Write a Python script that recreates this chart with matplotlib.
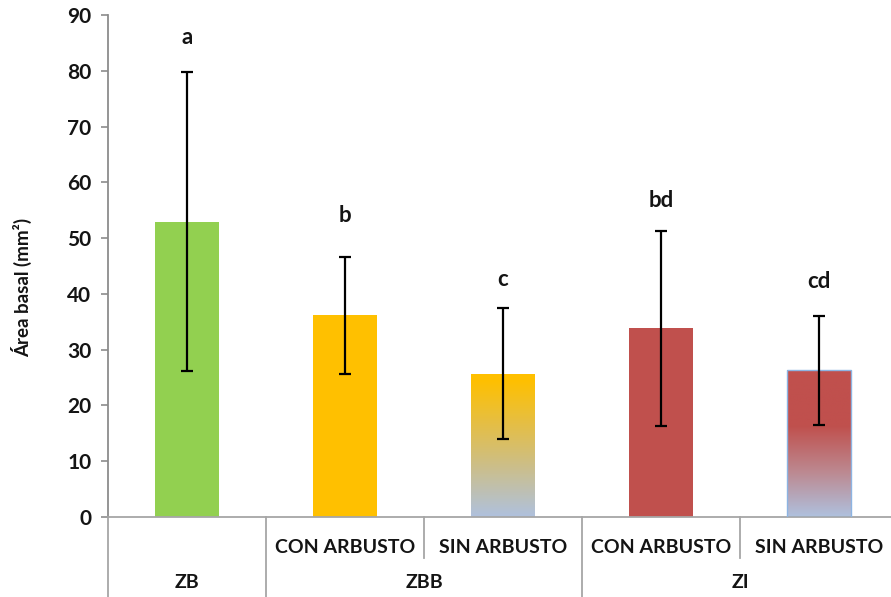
import numpy as np
import matplotlib
matplotlib.use('Agg')
import matplotlib.pyplot as plt
from matplotlib.colors import LinearSegmentedColormap

plt.rcParams['font.family'] = ['Lato', 'DejaVu Sans']

# Datos: área basal media y desviación por zona / condición
grupos = ['ZB', 'ZBB', 'ZBB', 'ZI', 'ZI']
condiciones = ['', 'CON ARBUSTO', 'SIN ARBUSTO', 'CON ARBUSTO', 'SIN ARBUSTO']
medias = [52.9, 36.2, 25.7, 33.8, 26.3]
desvios = [26.8, 10.5, 11.8, 17.4, 9.8]
letras = ['a', 'b', 'c', 'bd', 'cd']
pos_letras = [85.9, 54.1, 42.6, 56.7, 42.2]
y_ticks = [0, 10, 20, 30, 40, 50, 60, 70, 80, 90]

VERDE = '#92D050'
NARANJA = '#FFC000'
ROJO = '#C0504D'
CELESTE = '#AFC1DE'
GRIS = '#A6A6A6'
TEXTO = '#141414'


def relleno_degradado(ax, barra, paradas):
    # Degradado vertical recortado a la forma de la barra
    cmap = LinearSegmentedColormap.from_list('deg', paradas)
    x0 = barra.get_x()
    w = barra.get_width()
    h = barra.get_height()
    grad = np.linspace(0, 1, 256)[:, None]
    im = ax.imshow(grad, cmap=cmap, extent=[x0, x0 + w, 0, h],
                   origin='lower', aspect='auto', zorder=2, vmin=0, vmax=1)
    im.set_clip_path(barra)


fig = plt.figure(figsize=(8.91, 5.97), dpi=100)
ax = fig.add_axes([108 / 891, 80 / 597, 790 / 891, 502 / 597])

x = np.arange(len(medias))
colores = [VERDE, NARANJA, 'none', ROJO, 'none']
barras = ax.bar(x, medias, width=0.4, color=colores, zorder=2)
barras[4].set_edgecolor('#8DB4E2')
barras[4].set_linewidth(1.0)
barras[4].set_zorder(3)

relleno_degradado(ax, barras[2], [(0, CELESTE), (0.45, '#D4BE72'), (0.95, NARANJA), (1, NARANJA)])
relleno_degradado(ax, barras[4], [(0, CELESTE), (0.3, '#BC8A92'), (0.62, ROJO), (1, ROJO)])

ax.errorbar(x, medias, yerr=desvios, fmt='none', ecolor='black',
            elinewidth=1.6, capsize=4.5, capthick=1.6, zorder=4)

for xi, letra, yl in zip(x, letras, pos_letras):
    ax.text(xi, yl, letra, ha='center', va='center', fontsize=16,
            fontweight='bold', color=TEXTO)

ax.set_xlim(-0.5, len(medias) - 0.5)
ax.set_ylim(0, 90)
ax.set_yticks(y_ticks)
ax.tick_params(axis='y', direction='out', length=5, width=1.2, color='#8C8C8C',
               labelsize=15, labelcolor=TEXTO, pad=7)
for lab in ax.get_yticklabels():
    lab.set_fontweight('bold')
ax.set_xticks([])

for lado in ['top', 'right']:
    ax.spines[lado].set_visible(False)
ax.spines['left'].set_color('#8C8C8C')
ax.spines['left'].set_linewidth(1.3)
ax.spines['bottom'].set_color(GRIS)
ax.spines['bottom'].set_linewidth(1.3)

# Eje de categorías en dos niveles
trans = ax.get_xaxis_transform()
limites = [-0.5]
for i in range(1, len(grupos)):
    if grupos[i] != grupos[i - 1]:
        limites.append(i - 0.5)
for xl in limites:
    ax.plot([xl, xl], [0, -0.2], transform=trans, color=GRIS, lw=1.3,
            clip_on=False)
for i in range(1, len(grupos)):
    if grupos[i] == grupos[i - 1]:
        ax.plot([i - 0.5, i - 0.5], [0, -0.082], transform=trans, color=GRIS,
                lw=1.3, clip_on=False)

for xi, cond in zip(x, condiciones):
    if cond:
        ax.text(xi, -0.06, cond, transform=trans, ha='center', va='center',
                fontsize=14, fontweight='bold', color=TEXTO)

for g in dict.fromkeys(grupos):
    idx = [i for i, gg in enumerate(grupos) if gg == g]
    ax.text(np.mean(idx), -0.131, g, transform=trans, ha='center',
            va='center', fontsize=14, fontweight='bold', color=TEXTO)

fig.text(22 / 891, 1 - 287 / 597, 'Área basal (mm²)', rotation=90,
         ha='center', va='center', fontsize=13.5, fontweight='bold', color=TEXTO)

fig.savefig('out.png', dpi=100)
